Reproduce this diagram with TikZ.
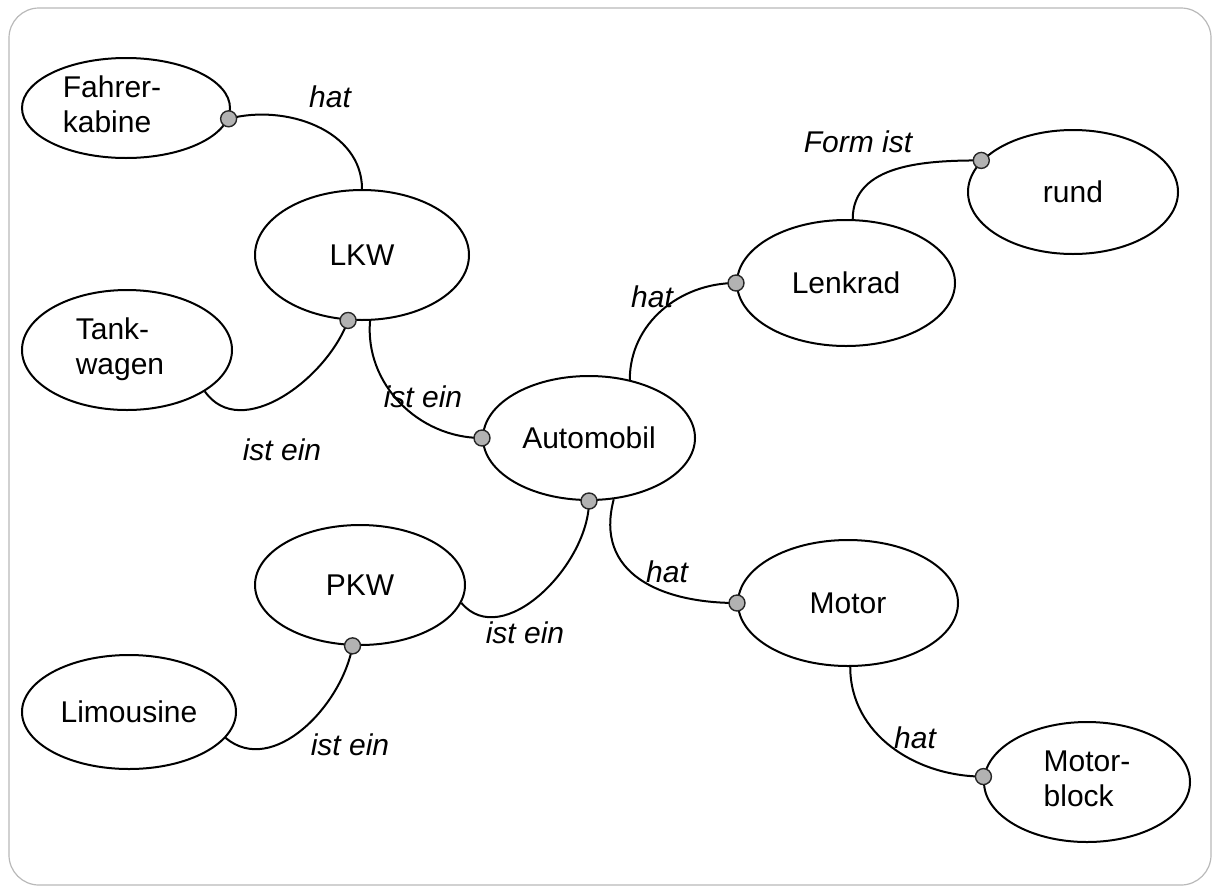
\documentclass[tikz,border=0pt]{standalone}
\usepackage{fontspec}
\setmainfont{Liberation Sans}
\usetikzlibrary{shapes.geometric}
\begin{document}
\begin{tikzpicture}[x=0.5pt,y=-0.5pt,
  concept/.style={ellipse,draw,line width=1pt,inner sep=0pt,align=left,
    font=\fontsize{15}{17.5}\selectfont},
  dot/.style={circle,draw=black!85,line width=0.7pt,fill=gray!60,inner sep=0pt,minimum size=8pt},
  link/.style={line width=1pt},
  lbl/.style={font=\fontsize{15}{17.5}\selectfont\itshape,inner sep=1pt}]
\useasboundingbox (0,0) rectangle (1214,889);
\draw[gray!55,line width=0.6pt,rounded corners=15pt] (9,8) rectangle (1211,885);

\node[concept,minimum width=104pt,minimum height=50pt] (F) at (126,108)
  {\begin{tabular}{@{}l@{\hspace{14pt}}}Fahrer-\\kabine\end{tabular}};
\node[concept,minimum width=107pt,minimum height=65pt] (LKW) at (362,255) {LKW};
\node[concept,minimum width=105pt,minimum height=60pt] (T) at (127,350)
  {\begin{tabular}{@{}l@{\hspace{7pt}}}Tank-\\wagen\end{tabular}};
\node[concept,minimum width=106pt,minimum height=62pt] (A) at (589,438) {Automobil};
\node[concept,minimum width=105pt,minimum height=60pt] (PKW) at (360,585) {PKW};
\node[concept,minimum width=107pt,minimum height=57pt] (L) at (129,712) {Limousine};
\node[concept,minimum width=109pt,minimum height=63pt] (Lk) at (846,283) {Lenkrad};
\node[concept,minimum width=105pt,minimum height=62pt] (R) at (1073,192) {rund};
\node[concept,minimum width=110pt,minimum height=63pt] (M) at (848,603) {Motor};
\node[concept,minimum width=103pt,minimum height=60pt] (MB) at (1087,782)
  {\begin{tabular}{@{}l@{}}Motor-\\block\end{tabular}};

\draw[link] (F.-6) to[out=15,in=90] (LKW.north);
\draw[link] (T.-28) to[out=-55,in=-110] (LKW.-102);
\draw[link] (LKW.-83) to[out=-95,in=180] (A.west);
\draw[link] (PKW.-10) to[out=-50,in=-90] (A.south);
\draw[link] (L.-15) to[out=-40,in=-100] (PKW.-97);
\draw[link] (A.55) to[out=90,in=180] (Lk.west);
\draw[link] (Lk.84) to[out=90,in=180] (R.161);
\draw[link] (A.-68) .. controls +(-20,75) and +(-75,0) .. (M.west);
\draw[link] (M.-88) to[out=-90,in=180] (MB.177);

\node[dot] (d1) at (F.-6) {};
\node[dot] (d2) at (LKW.-102) {};
\node[dot] (d3) at (A.west) {};
\node[dot] (d4) at (A.south) {};
\node[dot] (d5) at (PKW.-97) {};
\node[dot] (d6) at (Lk.west) {};
\node[dot] (d7) at (R.161) {};
\node[dot] (d8) at (M.west) {};
\node[dot] (d9) at (MB.177) {};

\node[lbl] (l1) at (330,97) {hat};
\node[lbl] (l2) at (282,450) {ist ein};
\node[lbl] (l3) at (423,397) {ist ein};
\node[lbl] (l4) at (525,633) {ist ein};
\node[lbl] (l5) at (350,745) {ist ein};
\node[lbl] (l6) at (652,297) {hat};
\node[lbl] (l7) at (858,142) {Form ist};
\node[lbl] (l8) at (667,572) {hat};
\node[lbl] (l9) at (915,738) {hat};
\end{tikzpicture}
\end{document}
